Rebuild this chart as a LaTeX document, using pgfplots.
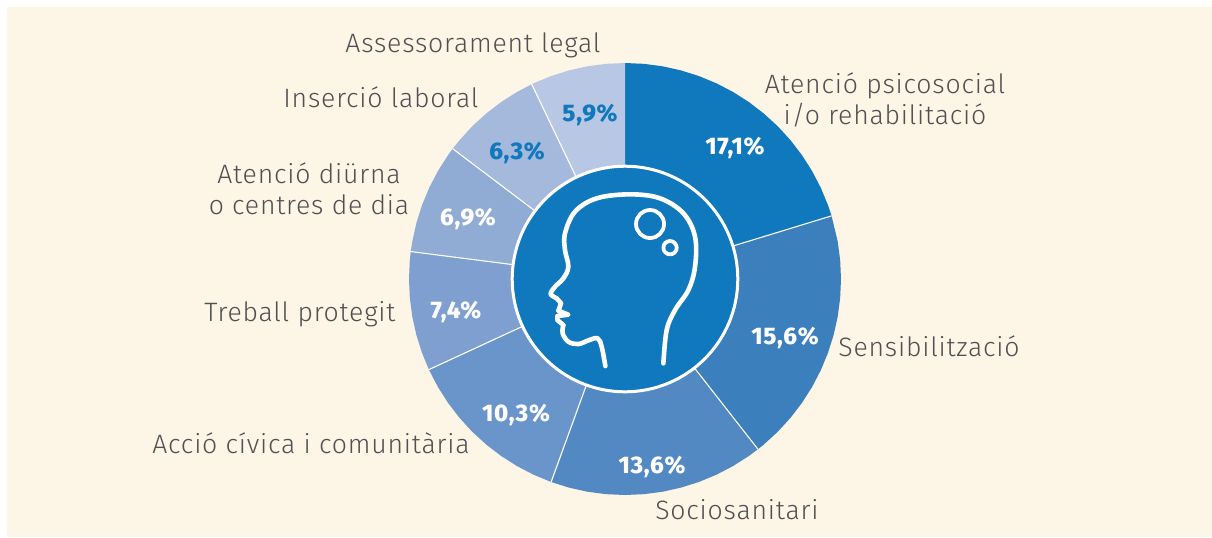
\documentclass[border=0pt]{standalone}
\usepackage{fontspec}
\setmainfont{Fira Sans Light}[LetterSpace=3,BoldFont={Fira Sans ExtraBold}]
\usepackage{pgfplots}
\pgfplotsset{compat=1.18}
\usepgfplotslibrary{polar}
\definecolor{bg}{HTML}{FDF5E6}
\definecolor{txt}{HTML}{505052}
\definecolor{wa}{HTML}{1078BC}
\definecolor{wb}{HTML}{3B7FBD}
\definecolor{wc}{HTML}{5389C3}
\definecolor{wd}{HTML}{6A95CA}
\definecolor{we}{HTML}{7E9FCF}
\definecolor{wf}{HTML}{90ACD5}
\definecolor{wg}{HTML}{A4B9DC}
\definecolor{wh}{HTML}{B7C7E4}
\begin{document}
\begin{tikzpicture}[x=0.5pt,y=-0.5pt]
\fill[white] (0,0) rectangle (1212,537);
\fill[bg] (7,7) rectangle (1212,537);
\coordinate (c) at (625,279);
\begin{polaraxis}[
    at={(c)}, anchor=center,
    scale only axis, width=216pt, height=216pt,
    xmin=-270, xmax=90, ymin=0, ymax=216,
    hide axis, clip=false,
]
% angles run clockwise from the top, each share of the total 83,1
\addplot[fill=wa,draw=none] coordinates {(90,0)(90,216)(85,216)(80,216)(75,216)(70,216)(65,216)(60,216)(55,216)(50,216)(45,216)(40,216)(35,216)(30,216)(25,216)(20,216)(17,216)(17,0)};
\addplot[fill=wb,draw=none] coordinates {(17,0)(17,216)(10,216)(5,216)(0,216)(-5,216)(-10,216)(-15,216)(-20,216)(-25,216)(-30,216)(-35,216)(-40,216)(-45,216)(-50,216)(-52,216)(-52,0)};
\addplot[fill=wc,draw=none] coordinates {(-52,0)(-52,216)(-55,216)(-60,216)(-65,216)(-70,216)(-75,216)(-80,216)(-85,216)(-90,216)(-95,216)(-100,216)(-105,216)(-110,216)(-110,0)};
\addplot[fill=wd,draw=none] coordinates {(-110,0)(-110,216)(-115,216)(-120,216)(-125,216)(-130,216)(-135,216)(-140,216)(-145,216)(-150,216)(-155,216)(-155.2,216)(-155.2,0)};
\addplot[fill=we,draw=none] coordinates {(-155.2,0)(-155.2,216)(-160,216)(-165,216)(-170,216)(-175,216)(-180,216)(-185,216)(-187.3,216)(-187.3,0)};
\addplot[fill=wf,draw=none] coordinates {(-187.3,0)(-187.3,216)(-190,216)(-195,216)(-200,216)(-205,216)(-210,216)(-215,216)(-217.1,216)(-217.1,0)};
\addplot[fill=wg,draw=none] coordinates {(-217.1,0)(-217.1,216)(-220,216)(-225,216)(-230,216)(-235,216)(-240,216)(-244.4,216)(-244.4,0)};
\addplot[fill=wh,draw=none] coordinates {(-244.4,0)(-244.4,216)(-245,216)(-250,216)(-255,216)(-260,216)(-265,216)(-270,216)(-270,0)};
% white separators
\addplot[white,line width=0.55pt] coordinates {(17,0)(17,216)};
\addplot[white,line width=0.55pt] coordinates {(-52,0)(-52,216)};
\addplot[white,line width=0.55pt] coordinates {(-110,0)(-110,216)};
\addplot[white,line width=0.55pt] coordinates {(-155.2,0)(-155.2,216)};
\addplot[white,line width=0.55pt] coordinates {(-187.3,0)(-187.3,216)};
\addplot[white,line width=0.55pt] coordinates {(-217.1,0)(-217.1,216)};
\addplot[white,line width=0.55pt] coordinates {(-244.4,0)(-244.4,216)};
% centre disc
\addplot[only marks,mark=*,mark size=56.4pt,mark options={fill=wa,draw=white,line width=1.5pt}] coordinates {(0,0)};
\end{polaraxis}
% head icon, traced on a 3x grid
\begin{scope}[shift={(500,170)},x=0.1667pt,y=-0.1667pt,white,line width=2.3pt,line cap=round,line join=round]
\draw plot[smooth,tension=0.6] coordinates {(316,588)(305,530)(293,505)(268,510)(235,522)(205,515)(188,490)(190,465)};
\draw (190,465) -- (172,450) -- (172,438) -- (205,434) -- (175,422) -- (183,400);
\draw plot[smooth,tension=0.6] coordinates {(183,400)(170,385)(152,372)(165,350)(190,325)(205,290)(195,240)(195,190)(225,125)(290,85)(390,73)(480,85)(550,130)(585,200)(585,290)(565,360)(525,420)(500,480)(490,580)};
\draw[line width=1.9pt] (450,162) circle[radius=42];
\draw[line width=1.9pt] (510,233) circle[radius=20];
\end{scope}
% shares
\begin{scope}[every node/.style={font=\bfseries\fontsize{12}{14}\selectfont,text=white,inner sep=0pt}]
\node at (735,148) {17,1\%};
\node at (785,338) {15,6\%};
\node at (652,467) {13,6\%};
\node at (516,415) {10,3\%};
\node at (456,312) {7,4\%};
\node at (468,219) {6,9\%};
\node[text=wa] at (517,153) {6,3\%};
\node[text=wa] at (590,115) {5,9\%};
\end{scope}
% category names
\begin{scope}[every node/.style={font=\fontsize{13.3}{15.5}\selectfont,text=txt,inner sep=0pt,align=center}]
\node at (473,45) {Assessorament legal};
\node at (381,97) {Inserció laboral};
\node at (309,189) {Atenció diürna\\o centres de dia};
\node at (300,314) {Treball protegit};
\node at (311,443) {Acció cívica i comunitària};
\node at (737,510) {Sociosanitari};
\node at (929,346) {Sensibilització};
\node at (885,100) {Atenció psicosocial\\i/o rehabilitació};
\end{scope}
\end{tikzpicture}
\end{document}
